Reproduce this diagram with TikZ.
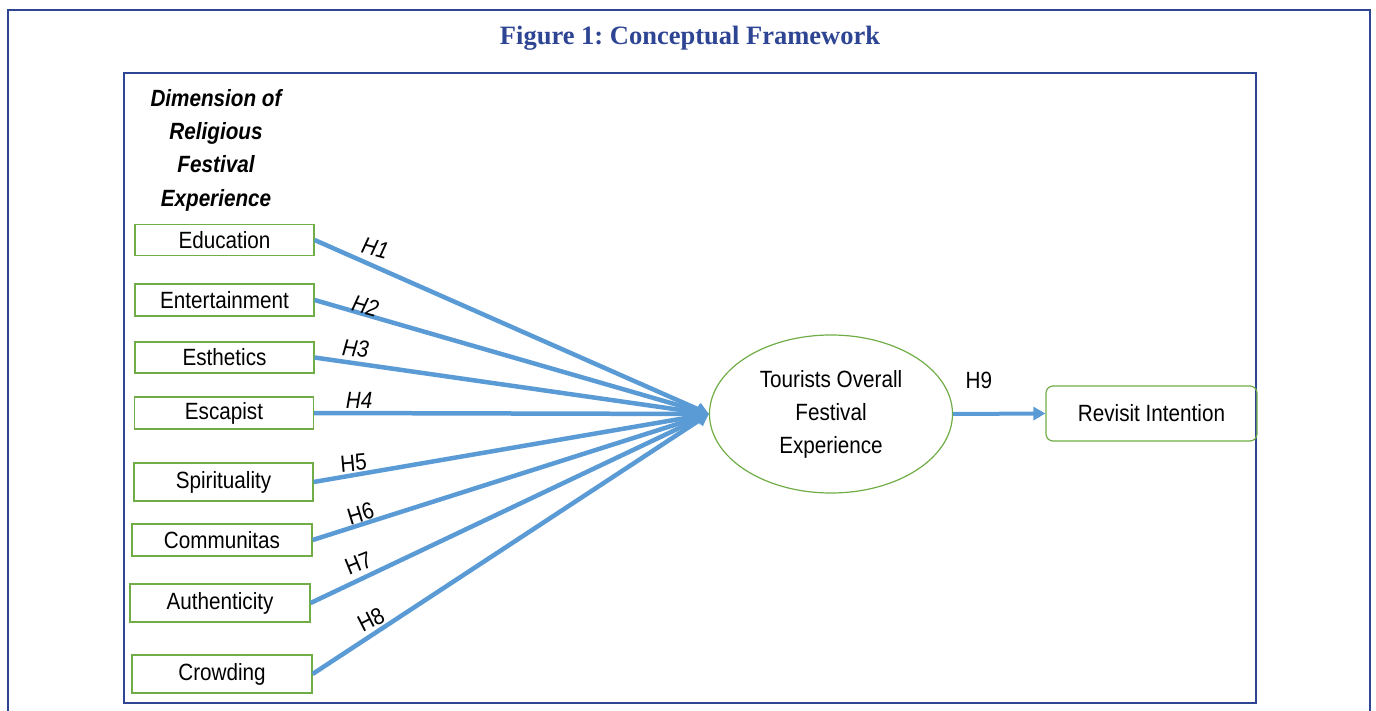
\documentclass[tikz,border=0pt]{standalone}
\usepackage{fontspec}
\setmainfont{Liberation Sans}[FakeStretch=0.88]
\newfontfamily\titlefont{Liberation Serif}
\usetikzlibrary{shapes.geometric,arrows.meta}
\definecolor{frameblue}{HTML}{2E4593}
\definecolor{boxgreen}{HTML}{70AD47}
\definecolor{linkblue}{HTML}{5B9BD5}
\frenchspacing
\begin{document}
\begin{tikzpicture}[x=1pt,y=-1pt,
  frame/.style={draw=frameblue, line width=2.6pt},
  dimbox/.style={draw=boxgreen, line width=1.2pt, minimum width=179pt,
    minimum height=31pt, inner sep=0pt, font=\fontsize{23.5}{26}\selectfont},
  link/.style={draw=linkblue, line width=4.5pt,
    -{Triangle[length=12pt,width=13pt]}},
  hyp/.style={font=\fontsize{23.5}{26}\selectfont, inner sep=0pt, anchor=center},
  hypit/.style={hyp, font=\fontsize{23.5}{26}\selectfont\itshape},
]
\useasboundingbox (0,0) rectangle (1376,711);

% frames
\draw[frame] (8,711) -- (8,10) -- (1370,10) -- (1370,711);
\draw[frame] (124,73) rectangle (1256,703);

% title
\node[text=frameblue, font=\titlefont\bfseries\fontsize{26.5}{30}\selectfont]
  (title) at (690,38) {Figure 1: Conceptual Framework};

% heading of the dimension column
\node[align=center, font=\fontsize{23.5}{33.3}\selectfont\bfseries\itshape]
  (heading) at (216,150) {Dimension of\\Religious\\Festival\\Experience};

% dimension boxes
\node[dimbox] (edu)  at (224.5,240) {Education};
\node[dimbox, minimum height=32pt] (ent) at (224.5,300) {Entertainment};
\node[dimbox] (est)  at (224.5,357.5) {Esthetics};
\node[dimbox, minimum height=32pt] (esc) at (224,413) {Escapist};
\node[dimbox, minimum height=38pt] (spi) at (223.5,482) {Spirituality};
\node[dimbox, minimum height=32pt, minimum width=180pt] (com) at (222,540) {Communitas};
\node[dimbox, minimum height=38pt, minimum width=180pt] (aut) at (220,603) {Authenticity};
\node[dimbox, minimum height=38pt, minimum width=180pt] (cro) at (222,674) {Crowding};

% central construct and outcome
\node[draw=boxgreen, line width=1.2pt, ellipse, minimum width=243pt,
  minimum height=158pt, inner sep=0pt, align=center,
  font=\fontsize{23.5}{33}\selectfont] (tofe) at (831,414)
  {Tourists Overall\\Festival\\Experience};
\node[draw=boxgreen, line width=1.2pt, rounded corners=7pt, minimum width=211pt,
  minimum height=55pt, font=\fontsize{23.5}{26}\selectfont] (rev) at (1151.5,413.5)
  {Revisit Intention};

% hypothesised paths
\draw[link] (edu.east) -- node[hypit, pos=0.154, yshift=19pt, rotate=-15] {H1} (tofe.west);
\draw[link] (ent.east) -- node[hypit, pos=0.129, yshift=9pt,  rotate=-15] {H2} (tofe.west);
\draw[link] (est.east) -- node[hypit, pos=0.104, yshift=15pt, rotate=-6] {H3} (tofe.west);
\draw[link] (esc.east) -- node[hypit, pos=0.114, yshift=13pt] {H4} (tofe.west);
\draw[link] (spi.east) -- node[hyp, pos=0.101, yshift=12pt, rotate=5] {H5} (tofe.west);
\draw[link] (com.east) -- node[hyp, pos=0.121, yshift=11pt, rotate=17] {H6} (tofe.west);
\draw[link] (aut.east) -- node[hyp, pos=0.120, yshift=17pt, rotate=22] {H7} (tofe.west);
\draw[link] (cro.east) -- node[hyp, pos=0.147, yshift=16pt, rotate=27] {H8} (tofe.west);
\draw[link, line width=4pt] (tofe.east) -- node[hyp, pos=0.28, yshift=33pt] {H9} (rev.west);
\end{tikzpicture}
\end{document}
